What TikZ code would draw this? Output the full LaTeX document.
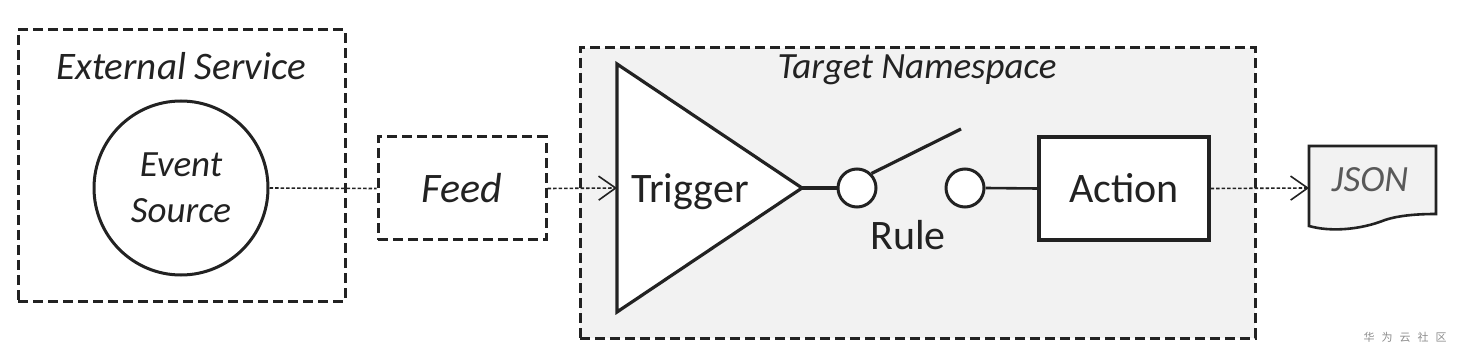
\documentclass[tikz,border=0pt]{standalone}
\usepackage{fontspec}
\setmainfont{Carlito}
\newfontfamily\cjk{Noto Sans CJK SC}
\usetikzlibrary{arrows.meta}
\definecolor{ink}{HTML}{222222}
\definecolor{bgray}{HTML}{F2F2F2}
\definecolor{jsontext}{HTML}{595959}
\definecolor{wmgray}{HTML}{8C8C8C}
\begin{document}
\begin{tikzpicture}[x=1pt,y=-1pt,
  dbox/.style={draw=ink, line width=3pt, dash pattern=on 10pt off 5pt, inner sep=0pt},
  conn/.style={draw=ink, line width=1.6pt, dash pattern=on 3.5pt off 2pt},
  solidline/.style={draw=ink, line width=3.2pt},
  openarrow/.style={-{Straight Barb[length=17pt,width=24pt,line width=1.6pt]}},
  lbl/.style={text=ink, inner sep=0pt},
]
\useasboundingbox (0,0) rectangle (1459,358);

% containers
\node[dbox, minimum width=327pt, minimum height=271pt] (ext) at (181.5,165.5) {};
\node[dbox, fill=bgray, minimum width=675pt, minimum height=290pt] (tgt) at (917.5,193) {};

\node[lbl, anchor=base, font=\fontsize{39}{45}\selectfont\itshape] (extlbl) at (181,80) {External Service};
\node[lbl, anchor=base, font=\fontsize{37}{44}\selectfont\itshape] (tgtlbl) at (917,79) {Target Namespace};

% event source
\node[circle, draw=ink, line width=3pt, minimum size=174pt, inner sep=0pt, align=center,
      text=ink, font=\fontsize{37}{46}\selectfont\itshape] (src) at (181,188) {Event\\Source};

% feed
\node[dbox, minimum width=168pt, minimum height=103pt] (feed) at (462,188.5) {};
\node[lbl, anchor=base, font=\fontsize{42}{48}\selectfont\itshape] (feedlbl) at (462,203) {Feed};

% trigger triangle
\coordinate (t1) at (617,64);
\coordinate (t2) at (617,312);
\coordinate (tap) at (802,188);
\coordinate (tin) at (617,188);
\draw[solidline, fill=white, line join=miter] (t1) -- (tap) -- (t2) -- cycle;
\node[lbl, anchor=base, font=\fontsize{42}{48}\selectfont] (trig) at (690,203) {Trigger};

% rule switch
\node[circle, draw=ink, line width=3pt, fill=white, minimum size=38pt, inner sep=0pt] (c1) at (857,188) {};
\node[circle, draw=ink, line width=3pt, fill=white, minimum size=38pt, inner sep=0pt] (c2) at (965,188) {};
\coordinate (swend) at (961,129);
\draw[solidline] (tap) -- (c1.west);
\draw[solidline] (c1.45) -- (swend);
\node[lbl, anchor=base, font=\fontsize{42}{48}\selectfont] (rule) at (908,250) {Rule};

% action
\node[solidline, fill=white, minimum width=170pt, minimum height=103pt, inner sep=0pt] (act) at (1124,188.5) {};
\node[lbl, anchor=base, font=\fontsize{42}{48}\selectfont] (actlbl) at (1124,203) {Action};
\draw[draw=ink, line width=2.6pt] (c2.east) -- (act.west);

% JSON document
\coordinate (jl) at (1309,188);
\draw[draw=ink, line width=2.6pt, fill=bgray, line join=miter]
  (1309,146) -- (1436,146) -- (1436,214)
  .. controls (1420,214) and (1400,215) .. (1385,220)
  .. controls (1360,230) and (1330,232) .. (1309,226) -- cycle;
\node[inner sep=0pt, anchor=base, text=jsontext, font=\fontsize{37}{44}\selectfont\itshape] (json) at (1370,192) {JSON};

% connectors
\draw[conn] (src.east) -- (feed.west);
\draw[conn, openarrow] (feed.east) -- (tin);
\draw[conn, openarrow] (act.east) -- (jl);

% watermark
\node[inner sep=0pt, text=wmgray, font=\cjk\fontsize{11}{11}\selectfont] (wm) at (1405,337)
  {华\hspace{7pt}为\hspace{7pt}云\hspace{7pt}社\hspace{7pt}区};
\end{tikzpicture}
\end{document}
